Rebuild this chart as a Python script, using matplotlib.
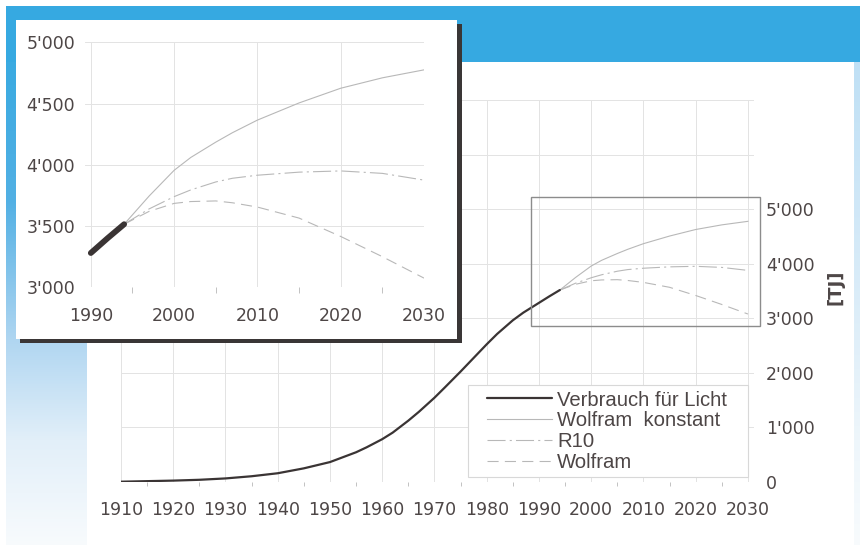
import numpy as np
import matplotlib
matplotlib.use("Agg")
import matplotlib.pyplot as plt
from matplotlib.patches import Rectangle

# ---------------- data ----------------
hist_years = [1910, 1915, 1920, 1925, 1930, 1935, 1940, 1945, 1950, 1955, 1957,
              1960, 1962, 1965, 1967, 1970, 1972, 1975, 1977, 1980, 1982, 1985,
              1987, 1990, 1992, 1994]
hist_tj = [0, 10, 20, 35, 60, 100, 155, 245, 360, 540, 630,
           780, 900, 1120, 1280, 1540, 1730, 2020, 2220, 2520, 2710, 2960,
           3100, 3280, 3400, 3515]

proj_years = [1994, 1997, 2000, 2002, 2005, 2007, 2010, 2015, 2020, 2025, 2030]
wolfram_konstant = [3515, 3745, 3955, 4060, 4185, 4262, 4365, 4505, 4625, 4710, 4775]
r10 = [3515, 3640, 3740, 3795, 3860, 3890, 3915, 3940, 3950, 3930, 3875]
wolfram = [3515, 3620, 3685, 3700, 3705, 3690, 3655, 3565, 3415, 3250, 3075]

series_labels = ["Verbrauch für Licht", "Wolfram  konstant", "R10", "Wolfram"]

main_xticks = list(range(1910, 2031, 10))
main_xlabels = [str(y) for y in main_xticks]
main_yticks = [0, 1000, 2000, 3000, 4000, 5000, 6000, 7000]
main_ylabels = ["0", "1'000", "2'000", "3'000", "4'000", "5'000", "", ""]

inset_start = 1990
inset_xticks = [1990, 2000, 2010, 2020, 2030]
inset_xlabels = [str(y) for y in inset_xticks]
inset_yticks = [3000, 3500, 4000, 4500, 5000]
inset_ylabels = ["3'000", "3'500", "4'000", "4'500", "5'000"]

zoom_window = (1988.5, 2032.3, 2855, 5230)   # x0, x1, y0, y1 of the zoom frame
unit_label = "[TJ]"

# ---------------- style ----------------
W, H = 860, 545
plt.rcParams["font.family"] = ["DejaVu Sans"]
plt.rcParams["lines.scale_dashes"] = False
TXT = "#4d4646"
DARK = "#3a3434"
LIGHT = "#b8b8b8"
GRID = "#e3e3e3"


def fbox(x0, y0, x1, y1):
    return [x0 / W, 1 - y1 / H, (x1 - x0) / W, (y1 - y0) / H]


fig = plt.figure(figsize=(W / 100, H / 100), dpi=100)

# ---------------- background (blue print frame) ----------------
bg = np.ones((H, W, 3))
blue = np.array([0x36, 0xa9, 0xe1]) / 255
bg[6:62, 6:W] = blue
rows = np.arange(H)
stops_r = [62, 200, 340, 440, 545]
stops_c = np.array([[0x3a, 0xaa, 0xe1], [0x52, 0xb0, 0xe4], [0xb0, 0xd6, 0xf1],
                    [0xe2, 0xef, 0xf9], [0xf8, 0xfb, 0xfd]]) / 255
grad = np.stack([np.interp(rows, stops_r, stops_c[:, k]) for k in range(3)], axis=1)
bg[62:H, 6:87] = grad[62:H, None, :]
stops_c2 = np.array([[0xbf, 0xe0, 0xf5], [0xcf, 0xe7, 0xf7], [0xe0, 0xef, 0xf9],
                     [0xee, 0xf6, 0xfb], [0xf8, 0xfb, 0xfd]]) / 255
grad2 = np.stack([np.interp(rows, stops_r, stops_c2[:, k]) for k in range(3)], axis=1)
bg[62:H, 854:W] = grad2[62:H, None, :]
bga = fig.add_axes([0, 0, 1, 1], zorder=-10)
bga.imshow(bg, extent=(0, W, H, 0), aspect="auto", interpolation="nearest")
bga.axis("off")

# ---------------- main chart ----------------
ax = fig.add_axes(fbox(121, 100, 754.2, 481.7), zorder=0)
ax.set_facecolor("none")
ax.plot(proj_years, wolfram_konstant, color=LIGHT, lw=0.8, zorder=3,
        label=series_labels[1])
ax.plot(proj_years, r10, color=LIGHT, lw=0.8, dashes=(13, 3, 1.5, 3), zorder=3,
        label=series_labels[2])
ax.plot(proj_years, wolfram, color=LIGHT, lw=0.8, dashes=(8, 4.5), zorder=3,
        label=series_labels[3])
ax.plot(hist_years, hist_tj, color=DARK, lw=1.6, zorder=4, label=series_labels[0],
        solid_capstyle="round")

ax.set_xlim(1910, 2031.2)
ax.set_ylim(0, 7000)
ax.set_xticks(main_xticks)
ax.set_xticklabels(main_xlabels)
ax.set_xticks(list(range(1915, 2030, 10)), minor=True)
ax.yaxis.tick_right()
ax.set_yticks(main_yticks)
ax.set_yticklabels(main_ylabels)
ax.tick_params(axis="x", which="major", length=0, pad=14, labelsize=12.5,
               labelcolor=TXT)
ax.tick_params(axis="x", which="minor", length=3, width=0.6, color="#b8b8b8")
ax.tick_params(axis="y", length=0, pad=8.6, labelsize=12.5, labelcolor=TXT)
for lab in ax.get_yticklabels():
    lab.set_horizontalalignment("left")
ax.grid(True, which="major", color=GRID, lw=0.7, zorder=0)
ax.set_axisbelow(True)
for s in ax.spines.values():
    s.set_visible(False)

# zoom window frame
zx0, zx1, zy0, zy1 = zoom_window
ax.add_patch(Rectangle((zx0, zy0), zx1 - zx0, zy1 - zy0, fill=False,
                       edgecolor="#8c8c8c", lw=1.0, clip_on=False, zorder=5))

# legend (frame drawn separately)
lx0, ly0, lx1, ly1 = 468, 385, 748, 477
tA = ax.transAxes.inverted()
fx0, fy1 = tA.transform(fig.transFigure.transform((lx0 / W, 1 - ly1 / H)))
fx1, fy0 = tA.transform(fig.transFigure.transform((lx1 / W, 1 - ly0 / H)))
ax.add_patch(Rectangle((fx0, fy1), fx1 - fx0, fy0 - fy1, transform=ax.transAxes,
                       facecolor="white", edgecolor="#d8d8d8", lw=0.8, zorder=6,
                       clip_on=False))
h, l = ax.get_legend_handles_labels()
order = [3, 0, 1, 2]
ax_anchor = tA.transform(fig.transFigure.transform((487 / W, 1 - 390.5 / H)))
leg = ax.legend([h[i] for i in order], [l[i] for i in order], loc="upper left",
                bbox_to_anchor=tuple(ax_anchor), borderaxespad=0, borderpad=0,
                frameon=False, handlelength=3.2, handletextpad=0.25,
                labelspacing=0.09,
                prop={"family": "Liberation Sans", "size": 14.6})
leg.set_zorder(7)
for t in leg.get_texts():
    t.set_color(TXT)

fig.text(835 / W, 1 - 287 / H, unit_label, rotation=90, ha="center", va="center",
         fontsize=13, fontweight="bold", color=TXT)

# ---------------- inset ----------------
sx0, sy0, sx1, sy1 = 20, 24, 462, 343
fig.add_artist(Rectangle((sx0 / W, 1 - sy1 / H), (sx1 - sx0) / W, (sy1 - sy0) / H,
                         transform=fig.transFigure, facecolor="#3a3636",
                         edgecolor="none", zorder=5))
px0, py0, px1, py1 = 16, 20, 457, 338.5
fig.add_artist(Rectangle((px0 / W, 1 - py1 / H), (px1 - px0) / W, (py1 - py0) / H,
                         transform=fig.transFigure, facecolor="white",
                         edgecolor="none", zorder=6))

in_years = [y for y in hist_years if y >= inset_start]
in_tj = [v for y, v in zip(hist_years, hist_tj) if y >= inset_start]

ax2 = fig.add_axes(fbox(85, 42.3, 424, 287.3), zorder=10)
ax2.set_facecolor("white")
ax2.plot(proj_years, wolfram_konstant, color=LIGHT, lw=0.8, zorder=3)
ax2.plot(proj_years, r10, color=LIGHT, lw=0.8, dashes=(13, 3, 1.5, 3), zorder=3)
ax2.plot(proj_years, wolfram, color=LIGHT, lw=0.8, dashes=(8, 4.5), zorder=3)
ax2.plot(in_years, in_tj, color=DARK, lw=4.2, zorder=4, solid_capstyle="round")
ax2.set_xlim(1989.3, 2030)
ax2.set_ylim(3000, 5000)
ax2.set_xticks(inset_xticks)
ax2.set_xticklabels(inset_xlabels)
ax2.set_xticks([1995, 2005, 2015, 2025], minor=True)
ax2.set_yticks(inset_yticks)
ax2.set_yticklabels(inset_ylabels)
ax2.tick_params(axis="x", which="major", length=0, pad=14, labelsize=12.5,
                labelcolor=TXT)
ax2.tick_params(axis="x", which="minor", length=4, width=0.6, color="#b8b8b8")
ax2.tick_params(axis="y", length=0, pad=7.2, labelsize=12.5, labelcolor=TXT)
ax2.grid(True, which="major", color=GRID, lw=0.7)
ax2.set_axisbelow(True)
for s in ax2.spines.values():
    s.set_visible(False)

fig.savefig("out.png", dpi=100)
